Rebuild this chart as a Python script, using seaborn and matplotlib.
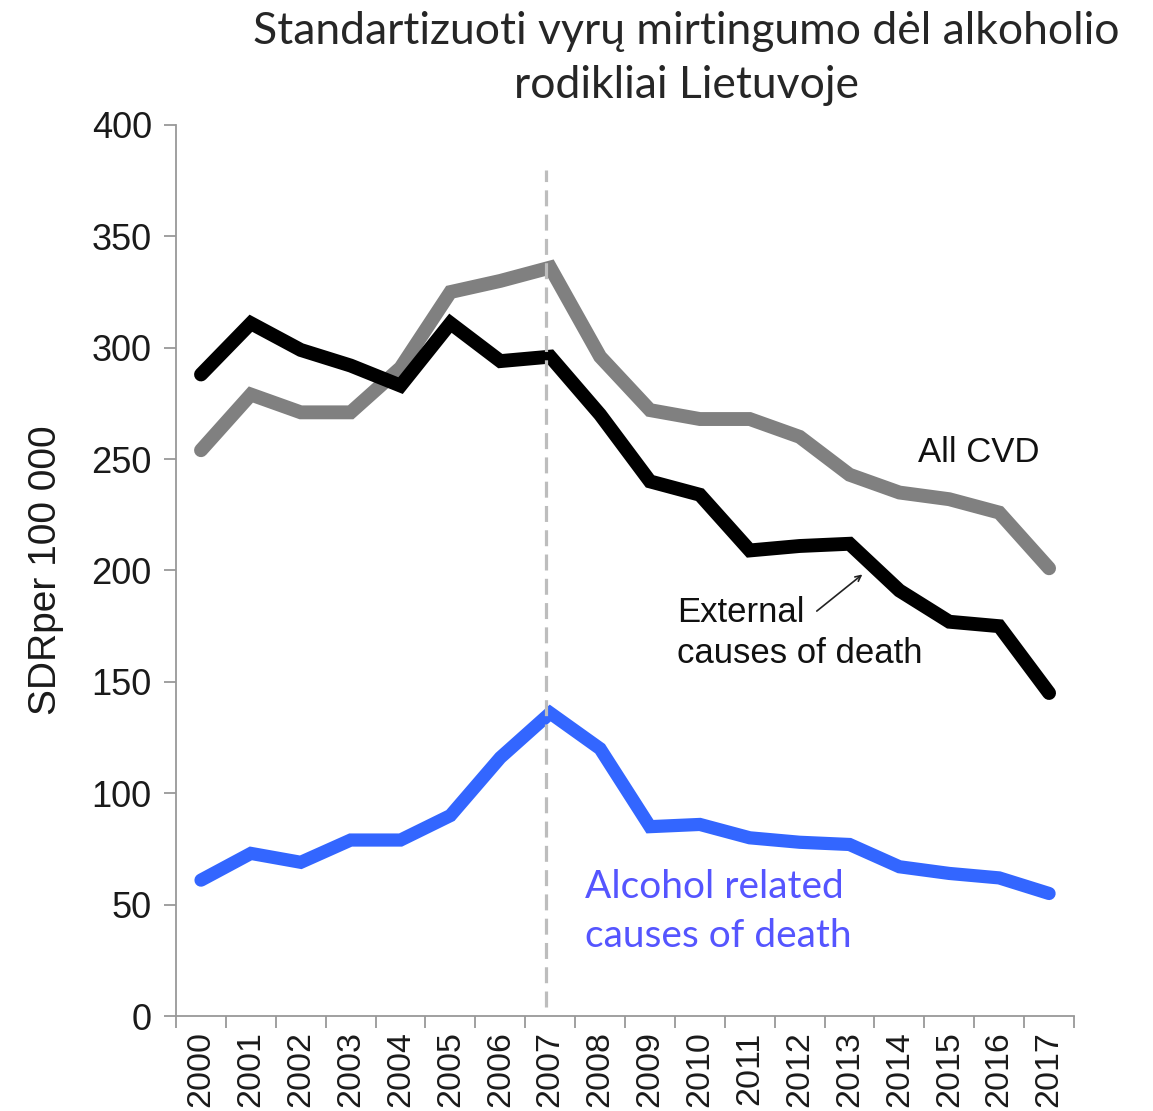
import matplotlib
matplotlib.use("Agg")
import matplotlib.pyplot as plt
import numpy as np
import pandas as pd
import seaborn as sns

years = [str(y) for y in range(2000, 2018)]
external = [288, 311, 299, 292, 283, 311, 294, 296, 270, 240, 234, 209, 211, 212, 191, 177, 175, 145]
all_cvd = [254, 279, 271, 271, 291, 325, 330, 336, 296, 272, 268, 268, 260, 243, 235, 232, 226, 201]
alcohol = [61, 73, 69, 79, 79, 90, 116, 136, 120, 85, 86, 80, 78, 77, 67, 64, 62, 55]
marker_year = "2007"

TITLE = "Standartizuoti vyrų mirtingumo dėl alkoholio\nrodikliai Lietuvoje"

sns.set_style("white")
plt.rcParams["font.family"] = ["Liberation Sans", "DejaVu Sans"]

df = pd.DataFrame({
    "pos": np.arange(len(years)),
    "external": external,
    "all_cvd": all_cvd,
    "alcohol": alcohol,
})

fig = plt.figure(figsize=(11.53, 11.11), dpi=100)
ax = fig.add_axes([0.1527, 0.0855, 0.7788, 0.802])

sns.lineplot(data=df, x="pos", y="all_cvd", color="#808080", lw=10, ax=ax,
             solid_capstyle="round", solid_joinstyle="miter")
sns.lineplot(data=df, x="pos", y="external", color="#000000", lw=10, ax=ax,
             solid_capstyle="round", solid_joinstyle="miter")
sns.lineplot(data=df, x="pos", y="alcohol", color="#3366ff", lw=9.5, ax=ax,
             solid_capstyle="round", solid_joinstyle="miter")

# vertical marker at 2007
xm = years.index(marker_year) - 0.08
ax.plot([xm, xm], [4, 380], color="#bdbdbd", lw=2.3, ls=(0, (5, 2.6)), zorder=5)

ax.set_xlim(-0.5, len(years) - 0.5)
ax.set_ylim(0, 400)
ax.set_yticks(range(0, 401, 50))
ax.set_xticks(np.arange(-0.5, len(years), 1))
ax.set_xticklabels([])
ax.set_xticks(np.arange(len(years)), minor=True)
ax.set_xticklabels(years, minor=True, rotation=90, fontsize=24.5, va="top",
                   color="#1a1a1a")
ax.tick_params(axis="x", which="major", direction="out", length=8.5, width=1.3,
               color="#999999", bottom=True)
ax.tick_params(axis="x", which="minor", length=0, pad=11)
ax.tick_params(axis="y", direction="out", length=8.5, width=1.3, color="#999999",
               labelsize=26, labelcolor="#1a1a1a", pad=9, left=True)

for side in ["top", "right"]:
    ax.spines[side].set_visible(False)
for side in ["left", "bottom"]:
    ax.spines[side].set_color("#999999")
    ax.spines[side].set_linewidth(1.3)

ax.set_xlabel("")
ax.set_ylabel("SDRper 100 000", fontsize=28, labelpad=20, color="#1a1a1a")

ax.text(14.37, 253, "All CVD", fontsize=25, color="#111111", va="center")
ax.text(9.55, 172, "External\ncauses of death", fontsize=25, color="#111111",
        va="center", linespacing=1.3)
ax.annotate("", xy=(13.3, 199), xytext=(12.3, 181),
            arrowprops=dict(arrowstyle="->", color="#222222", lw=1.2))
ax.text(7.7, 47, "Alcohol related\ncauses of death", fontsize=28, color="#5555ff",
        family=["Lato", "DejaVu Sans"], va="center", linespacing=1.45)

fig.text(0.595, 0.99, TITLE, fontsize=32, ha="center", va="top",
         family=["Lato", "DejaVu Sans"], linespacing=1.4)

fig.savefig("out.png", dpi=100)
